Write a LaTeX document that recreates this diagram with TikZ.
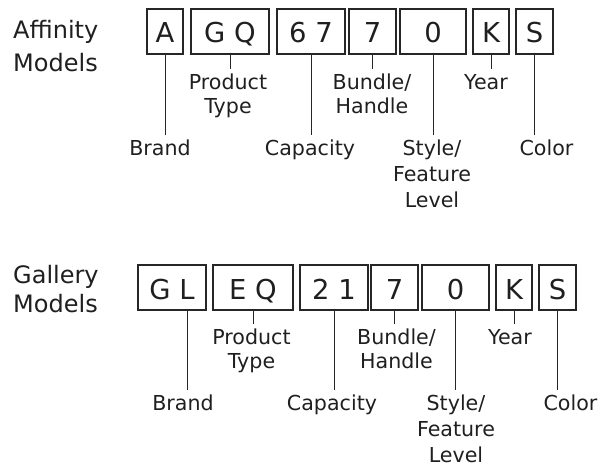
\documentclass[tikz,border=0pt]{standalone}
\usepackage{fontspec}
\setmainfont{DejaVu Sans}

\tikzset{
    codebox/.style={draw=black!85, line width=1.1pt, minimum height=45pt, inner sep=0pt,
        text height=23pt, text depth=0pt, font=\fontsize{27.4}{30}\selectfont},
    partlabel/.style={anchor=north, align=center, inner xsep=0pt, inner ysep=5pt,
        font=\fontsize{20.6}{24}\selectfont},
    serieslabel/.style={anchor=north west, align=left, inner sep=0pt},
    lead/.style={draw=black!85, line width=1pt}
}

\begin{document}
\begin{tikzpicture}[x=1pt,y=-1pt,text=black!88]

    \useasboundingbox (0,0) rectangle (607,468);

    % Affinity models: series name and code boxes
    \node[serieslabel, font=\fontsize{24}{33}\selectfont] (affinity) at (13,20) {Affinity\\Models};
    \foreach \name/\x/\w/\code in {a1/165/36/A, a2/230/78/G Q, a3/311/68/6 7, a4/372.5/47/7,
                                   a5/433/66/0, a6/491/36/K, a7/534.5/37/S} {
        \node[codebox, minimum width=\w pt] (\name) at (\x,31.5) {\code};
    }

    % Affinity models: what each part means
    \node[partlabel] (abrand) at (160,135) {Brand};
    \node[partlabel] (atype) at (228,69) {Product\\Type};
    \node[partlabel] (acap) at (310,135) {Capacity};
    \node[partlabel] (abundle) at (372,69) {Bundle/\\Handle};
    \node[partlabel, font=\fontsize{20.6}{26}\selectfont] (astyle) at (432,135) {Style/\\Feature\\Level};
    \node[partlabel] (ayear) at (486,69) {Year};
    \node[partlabel] (acolor) at (546.5,135) {Color};

    \foreach \b/\l in {a1/abrand, a2/atype, a3/acap, a4/abundle, a5/astyle, a6/ayear, a7/acolor} {
        \draw[lead] (\b.south) -- (\b.south |- \l.north);
    }

    % Gallery models: series name and code boxes
    \node[serieslabel, font=\fontsize{24}{29}\selectfont] (gallery) at (13,265) {Gallery\\Models};
    \foreach \name/\x/\w/\code in {g1/172/68/G L, g2/253/80/E Q, g3/334/68/2 1, g4/394.5/47/7,
                                   g5/455.5/67/0, g6/514/36/K, g7/557.5/37/S} {
        \node[codebox, minimum width=\w pt] (\name) at (\x,287.5) {\code};
    }

    % Gallery models: what each part means
    \node[partlabel] (gbrand) at (183,390) {Brand};
    \node[partlabel] (gtype) at (251.5,324) {Product\\Type};
    \node[partlabel] (gcap) at (332,390) {Capacity};
    \node[partlabel] (gbundle) at (396.5,324) {Bundle/\\Handle};
    \node[partlabel, font=\fontsize{20.6}{26}\selectfont] (gstyle) at (456,390) {Style/\\Feature\\Level};
    \node[partlabel] (gyear) at (510,324) {Year};
    \node[partlabel] (gcolor) at (570.5,390) {Color};

    \draw[lead] ([xshift=15pt]g1.south) -- ([xshift=15pt]g1.south |- gbrand.north);
    \foreach \b/\l in {g2/gtype, g3/gcap, g4/gbundle, g5/gstyle, g6/gyear, g7/gcolor} {
        \draw[lead] (\b.south) -- (\b.south |- \l.north);
    }

\end{tikzpicture}
\end{document}
